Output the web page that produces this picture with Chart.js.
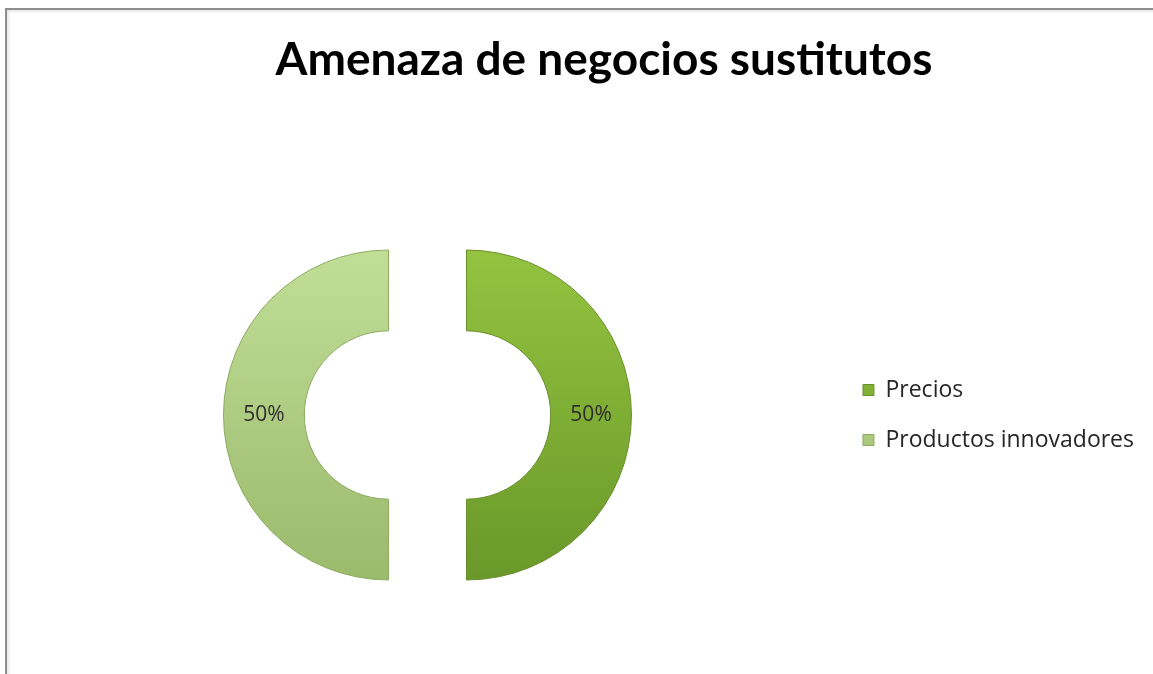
<!DOCTYPE html>
<html>
<head>
<meta charset="utf-8">
<script src="https://cdn.jsdelivr.net/npm/chart.js@4/dist/chart.umd.min.js"></script>
<style>
  html, body { margin: 0; padding: 0; background: #fff; overflow: hidden; }
  #marco {
    position: absolute; left: 5px; top: 8px; width: 1200px; height: 700px;
    border-left: 2px solid #8e8e8e; border-top: 2px solid #8e8e8e;
    box-shadow: inset 2px 2px 3px #e8e8e8;
  }
  #grafico { position: absolute; left: 0; top: 0; }
  #titulo {
    position: absolute; left: 0; top: 30px; width: 1208px; margin: 0;
    text-align: center; font: bold 46px/55px Lato, sans-serif; color: #000;
  }
</style>
</head>
<body>
<div id="marco"></div>
<canvas id="grafico" width="1144" height="674"></canvas>
<h1 id="titulo"></h1>
<script>
const titulo = 'Amenaza de negocios sustitutos';
const categorias = ['Precios', 'Productos innovadores'];
const porcentajes = [50, 50];

// degradado vertical de cada porción: [arriba, abajo]
const tonos = [
  ['#94c340', '#6a982a'],
  ['#c1de97', '#9aba6c'],
];
const bordes = ['#6a8f2c', '#8eab60'];

const RADIO = 165;
const HUECO = '51%';
// cuánto se aparta cada mitad del centro
const SEPARACION = 39;

const degradado = (contexto) => {
  const { chart, dataIndex } = contexto;
  const area = chart.chartArea;
  const par = tonos[dataIndex];
  if (!area) return par[0];
  const centroY = (area.top + area.bottom) / 2;
  const g = chart.ctx.createLinearGradient(0, centroY - RADIO, 0, centroY + RADIO);
  g.addColorStop(0, par[0]);
  g.addColorStop(1, par[1]);
  return g;
};

// separa las porciones en línea recta, sin recortar sus bordes
const separacion = {
  id: 'separacion',
  afterDatasetsUpdate(chart) {
    chart.getDatasetMeta(0).data.forEach((arco) => {
      const medio = (arco.startAngle + arco.endAngle) / 2;
      arco.x += Math.cos(medio) * SEPARACION;
      arco.y += Math.sin(medio) * SEPARACION;
    });
  },
};

// escribe el porcentaje en medio de cada porción
const etiquetasPorcentaje = {
  id: 'etiquetasPorcentaje',
  afterDatasetsDraw(chart) {
    const { ctx } = chart;
    const meta = chart.getDatasetMeta(0);
    const total = porcentajes.reduce((a, b) => a + b, 0);
    ctx.save();
    ctx.font = '21px "Open Sans"';
    ctx.fillStyle = '#2e2e2e';
    ctx.textAlign = 'center';
    ctx.textBaseline = 'middle';
    meta.data.forEach((arco, i) => {
      const p = arco.getCenterPoint();
      ctx.fillText(Math.round((porcentajes[i] * 100) / total) + '%', p.x, p.y);
    });
    ctx.restore();
  },
};

document.getElementById('titulo').textContent = titulo;

const dibuja = () => {
  /* eslint-disable no-new */
  new Chart(document.getElementById('grafico'), {
    type: 'doughnut',
    plugins: [separacion, etiquetasPorcentaje],
    data: {
      labels: categorias,
      datasets: [{
        data: porcentajes,
        backgroundColor: degradado,
        borderColor: bordes,
        borderWidth: 1,
        radius: RADIO,
        cutout: HUECO,
      }],
    },
    options: {
      responsive: false,
      animation: false,
      layout: { padding: { left: 19, right: 0, top: 200, bottom: 44 } },
      plugins: {
        tooltip: { enabled: false },
        title: { display: false },
        legend: {
          position: 'right',
          align: 'center',
          fullSize: false,
          labels: {
            boxWidth: 11,
            boxHeight: 11,
            padding: 27,
            color: '#262626',
            font: { family: 'Open Sans', size: 23 },
          },
        },
      },
    },
  });
  /* eslint-enable no-new */
};

Promise.all([
  document.fonts.load('bold 46px Lato'),
  document.fonts.load('23px "Open Sans"'),
]).then(dibuja, dibuja);
</script>
</body>
</html>
